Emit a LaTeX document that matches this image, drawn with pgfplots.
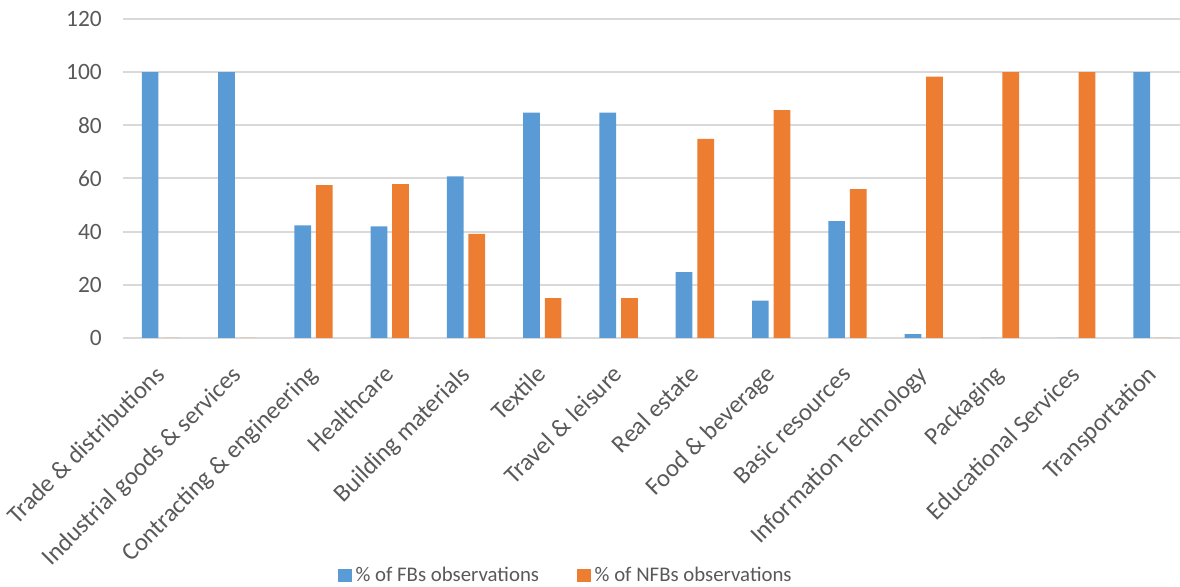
\documentclass[border=0pt]{standalone}
\usepackage{pgfplots}
\pgfplotsset{compat=1.18}
\usepackage{fontspec}
\setmainfont{Carlito}
\definecolor{fbblue}{HTML}{5B9BD5}
\definecolor{nfborange}{HTML}{ED7D31}
\definecolor{gridgray}{HTML}{D9D9D9}
\definecolor{txtgray}{HTML}{595959}
\pgfplotstableread{
x fb nfb
0 100 0
1 100 0
2 42.4 57.5
3 42.0 57.9
4 60.8 39.2
5 84.8 15.0
6 84.8 15.0
7 24.8 74.9
8 14.1 85.7
9 44.0 56.0
10 1.5 98.3
11 0 100
12 0 100
13 100 0
}\datatable
\begin{document}
\begin{tikzpicture}
\begin{axis}[
  scale only axis, width=528.6pt, height=159.5pt,
  xmin=-0.5, xmax=13.36, ymin=0, ymax=120,
  ytick={0,20,...,120},
  xtick={0,...,13},
  xticklabels={Trade \& distributions, Industrial goods \& services, Contracting \& engineering, Healthcare, Building materials, Textile, Travel \& leisure, Real estate, Food \& beverage, Basic resources, Information Technology, Packaging, Educational Services, Transportation},
  axis line style={draw=none},
  major tick length=0pt,
  ymajorgrids, grid style={gridgray, line width=1pt},
  yticklabel style={font=\fontsize{11.7}{13}\selectfont, text=txtgray, xshift=-7pt},
  /pgf/number format/assume math mode=true,
  xticklabel style={font=\fontsize{12.4}{14}\selectfont, text=txtgray, rotate=45, anchor=north east, inner sep=1pt, xshift=-10.5pt, yshift=-5.5pt},
  ybar, bar width=8.35pt,
  legend style={draw=none, at={(0.42,-0.745)}, anchor=center, legend columns=2,
    font=\fontsize{10.4}{12}\selectfont, text=txtgray,
    /tikz/every even column/.append style={column sep=17pt}},
  legend image code/.code={\fill[#1] (0pt,-3.4pt) rectangle (6.8pt,3.4pt);},
]
\addplot[fill=fbblue, draw=none, bar shift=-5.4pt] table[x=x, y=fb] {\datatable};
\addplot[fill=nfborange, draw=none, bar shift=5.4pt] table[x=x, y=nfb] {\datatable};
\legend{\% of FBs observations, \% of NFBs observations}
\end{axis}
\pgfresetboundingbox
\path (-61.4pt,-124.3pt) rectangle (528.6pt,169pt);
\end{tikzpicture}
\end{document}
